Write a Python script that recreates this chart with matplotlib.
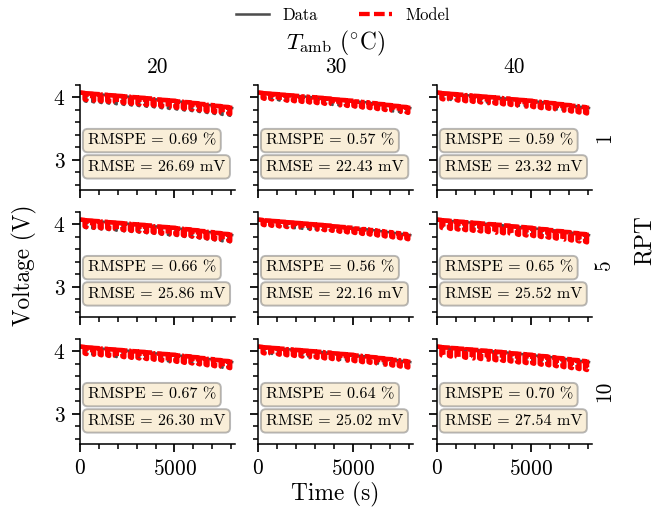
import numpy as np
import matplotlib
matplotlib.use("Agg")
import matplotlib.pyplot as plt
from matplotlib.lines import Line2D
from matplotlib.ticker import MultipleLocator

plt.rcParams["font.family"] = "serif"
plt.rcParams["font.serif"] = ["cmr10"]
plt.rcParams["mathtext.fontset"] = "cm"
plt.rcParams["axes.formatter.use_mathtext"] = True
plt.rcParams["font.size"] = 10

# ambient temperatures (columns) and RPT numbers (rows)
temps = [20, 30, 40]
rpts = [1, 5, 10]

# pulse start times (s) and rest voltage before each pulse (V)
pulse_t = [250, 650, 1050, 1450, 1850, 2250, 2650, 3050, 3450, 3850,
           4250, 4650, 5050, 5450, 5850, 6250, 6650, 7050, 7450, 7850]
v_rest = [4.07, 4.06, 4.05, 4.04, 4.03, 4.02, 4.01, 4.00, 3.99, 3.98,
          3.965, 3.955, 3.945, 3.93, 3.92, 3.905, 3.89, 3.875, 3.86, 3.845]
t_end = 8050
v_end = 3.83

# pulse depth (V) per panel [row][col]
depth_data = [[0.13, 0.09, 0.09],
              [0.12, 0.08, 0.09],
              [0.11, 0.09, 0.09]]
depth_model = [[0.10, 0.08, 0.09],
               [0.10, 0.07, 0.12],
               [0.10, 0.09, 0.13]]

rmspe = [[0.69, 0.57, 0.59],
         [0.66, 0.56, 0.65],
         [0.67, 0.64, 0.70]]
rmse = [[26.69, 22.43, 23.32],
        [25.86, 22.16, 25.52],
        [26.30, 25.02, 27.54]]


def pulse_curve(depth, pulse_width=90):
    t = [0.0]
    v = [v_rest[0] + 0.01]
    for k in range(len(pulse_t)):
        tk = pulse_t[k]
        v_next = v_rest[k + 1] if k + 1 < len(v_rest) else v_end
        t += [tk, tk, tk + pulse_width, tk + pulse_width]
        v += [v_rest[k], v_rest[k] - depth, v_rest[k] - depth - 0.01, v_next + 0.005]
    t.append(t_end)
    v.append(v_end)
    return np.array(t), np.array(v)


fig = plt.figure(figsize=(4.8, 3.643), dpi=140)

lefts = [0.119, 0.384, 0.650]
bottoms = [0.6275, 0.3784, 0.1294]
w, h = 0.2307, 0.206

box = dict(boxstyle="round", facecolor="wheat", alpha=0.5, edgecolor="0.45")

for i in range(3):
    for j in range(3):
        ax = fig.add_axes([lefts[j], bottoms[i], w, h])
        td, vd = pulse_curve(depth_data[i][j])
        tm, vm = pulse_curve(depth_model[i][j])
        ax.plot(td, vd, color="0.3", lw=1.3)
        ax.plot(tm, vm, color="red", lw=2.4, ls="--", dashes=(3, 0.4))
        ax.set_xlim(0, 8200)
        ax.set_ylim(2.52, 4.2)
        ax.xaxis.set_major_locator(MultipleLocator(5000))
        ax.xaxis.set_minor_locator(MultipleLocator(1000))
        ax.yaxis.set_major_locator(MultipleLocator(1))
        ax.yaxis.set_minor_locator(MultipleLocator(0.2))
        ax.spines["top"].set_visible(False)
        ax.spines["right"].set_visible(False)
        ax.tick_params(which="major", length=4, width=0.9, labelsize=11)
        ax.tick_params(which="minor", length=2.5, width=0.8)
        if j > 0:
            ax.set_yticklabels([])
        if i < 2:
            ax.set_xticklabels([])
        ax.text(0.05, 0.47, f"RMSPE = {rmspe[i][j]:.2f} %", transform=ax.transAxes,
                fontsize=8.3, va="center", ha="left", bbox=box)
        ax.text(0.05, 0.22, f"RMSE = {rmse[i][j]:.2f} mV", transform=ax.transAxes,
                fontsize=8.3, va="center", ha="left", bbox=box)
        if i == 0:
            ax.set_title(str(temps[j]), fontsize=11, pad=6)
        if j == 2:
            ax.text(1.08, 0.5, str(rpts[i]), transform=ax.transAxes, rotation=90,
                    va="center", ha="center", fontsize=11)

fig.text(0.5, 0.914, r"$T_{\mathrm{amb}}$ ($^{\circ}$C)", ha="center", va="center", fontsize=12)
fig.text(0.499, 0.031, "Time (s)", ha="center", va="center", fontsize=12)
fig.text(0.037, 0.48, "Voltage (V)", rotation=90, ha="center", va="center", fontsize=12)
fig.text(0.96, 0.53, "RPT", rotation=90, ha="center", va="center", fontsize=12)

handles = [Line2D([], [], color="0.3", lw=1.3),
           Line2D([], [], color="red", lw=2.2, ls="--", dashes=(2.5, 1))]
fig.legend(handles, ["Data", "Model"], loc="center", bbox_to_anchor=(0.51, 0.97),
           ncol=2, frameon=False, fontsize=8.5, columnspacing=2.5)

fig.savefig("out.png", dpi=140)
